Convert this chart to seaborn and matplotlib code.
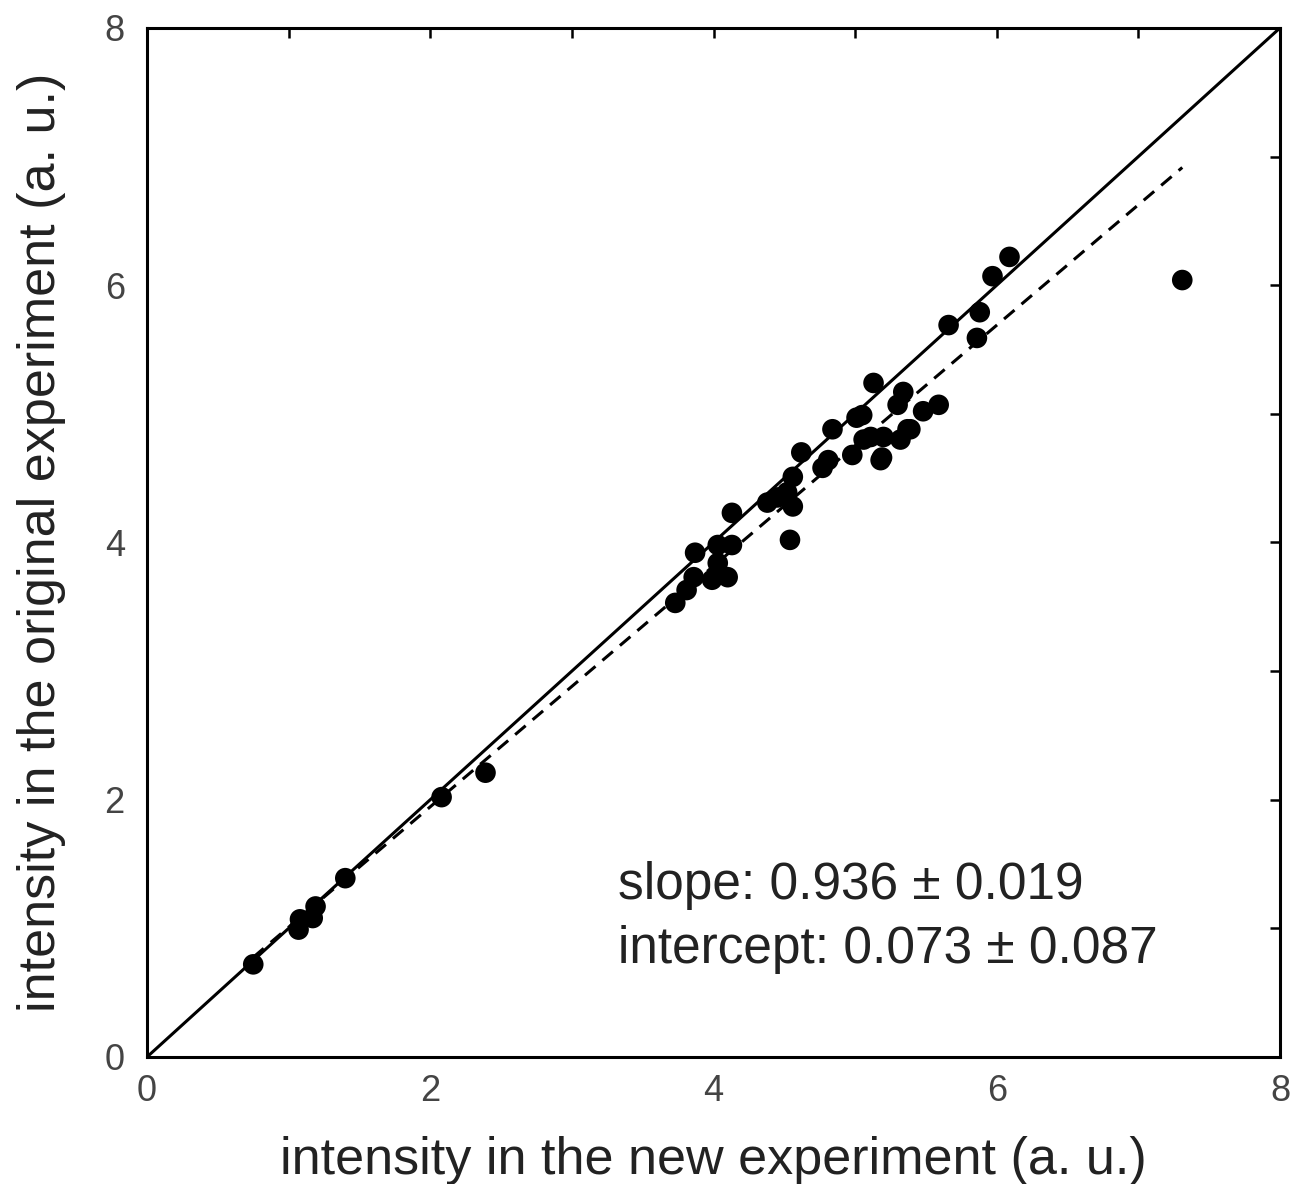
import matplotlib
matplotlib.use("Agg")
import matplotlib.pyplot as plt
import seaborn as sns
import numpy as np
import pandas as pd

# data
x_new = [0.75, 1.07, 1.08, 1.17, 1.19, 1.40, 2.08, 2.39,
         3.73, 3.81, 3.86, 3.87, 3.99, 4.03, 4.03, 4.10, 4.13, 4.13,
         4.38, 4.45, 4.52, 4.54, 4.56, 4.56, 4.62, 4.77, 4.81, 4.84,
         4.98, 5.01, 5.05, 5.06, 5.11, 5.13, 5.18, 5.19, 5.20, 5.30,
         5.32, 5.34, 5.37, 5.39, 5.48, 5.59, 5.66, 5.86, 5.88, 5.97,
         6.09, 7.31]
y_orig = [0.72, 0.99, 1.07, 1.08, 1.17, 1.39, 2.02, 2.21,
          3.53, 3.63, 3.73, 3.92, 3.71, 3.98, 3.84, 3.73, 3.98, 4.23,
          4.31, 4.35, 4.39, 4.02, 4.28, 4.51, 4.70, 4.58, 4.64, 4.88,
          4.68, 4.97, 4.99, 4.80, 4.82, 5.24, 4.64, 4.66, 4.82, 5.07,
          4.80, 5.17, 4.88, 4.88, 5.02, 5.07, 5.69, 5.59, 5.79, 6.07,
          6.22, 6.04]
fit_slope = 0.936
fit_intercept = 0.073
slope_label = "slope: 0.936 ± 0.019"
intercept_label = "intercept: 0.073 ± 0.087"
tick_values = [0, 2, 4, 6, 8]
xlabel = "intensity in the new experiment (a. u.)"
ylabel = "intensity in the original experiment (a. u.)"

sns.set_theme(style="white")
plt.rcParams['font.family'] = ['Liberation Sans', 'DejaVu Sans']

fig = plt.figure(figsize=(12.92, 11.84), dpi=100)
ax = fig.add_axes([0.1138, 0.1073, 0.8769, 0.8691])

df = pd.DataFrame({"x": x_new, "y": y_orig})
sns.scatterplot(data=df, x="x", y="y", ax=ax, color="black", s=220,
                edgecolor="none", zorder=3)

ident = pd.DataFrame({"x": [0, 8], "y": [0, 8]})
sns.lineplot(data=ident, x="x", y="y", ax=ax, color="black", lw=2.2, zorder=2)

xf = np.array([min(x_new), max(x_new)])
fit = pd.DataFrame({"x": xf, "y": fit_slope * xf + fit_intercept})
sns.lineplot(data=fit, x="x", y="y", ax=ax, color="black", lw=2.2,
             linestyle=(0, (4.5, 3)), zorder=2)

ax.set_xlim(0, 8)
ax.set_ylim(0, 8)
ax.set_xticks(tick_values)
ax.set_yticks(tick_values)
ax.set_xticks([1, 3, 5, 7], minor=True)
ax.set_yticks([1, 3, 5, 7], minor=True)
ax.tick_params(which="both", direction="in", top=True, right=True,
               length=7, width=1.8, color="black")
ax.tick_params(which="major", labelsize=26, labelcolor="#444444")
ax.tick_params(axis="x", which="major", pad=12)
ax.tick_params(axis="y", which="major", pad=16)
for s in ax.spines.values():
    s.set_color("black")
    s.set_linewidth(2.2)

ax.set_xlabel(xlabel, fontsize=37.5, color="#222222", labelpad=20)
ax.set_ylabel(ylabel, fontsize=37.5, color="#222222", labelpad=28)

ax.text(0.416, 0.167, slope_label, transform=ax.transAxes, fontsize=37,
        color="#222222", va="center", ha="left")
ax.text(0.416, 0.104, intercept_label, transform=ax.transAxes, fontsize=37,
        color="#222222", va="center", ha="left")

fig.savefig("out.png", dpi=100, facecolor="white")
